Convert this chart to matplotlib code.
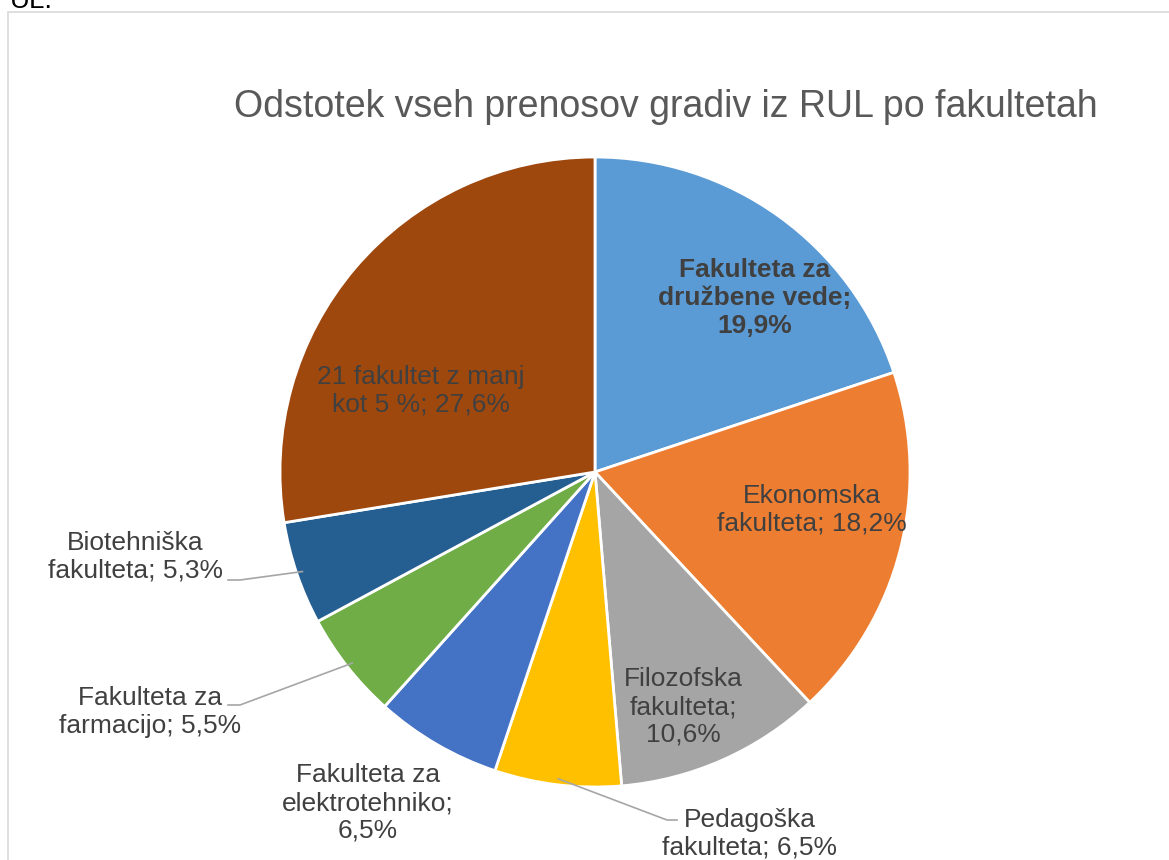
import math
import matplotlib
matplotlib.use('Agg')
from matplotlib import pyplot as plt
from matplotlib.patches import Rectangle

plt.rcParams['font.family'] = ['Liberation Sans', 'DejaVu Sans']

# data
labels = ['Fakulteta za\ndružbene vede;\n19,9%',
          'Ekonomska\nfakulteta; 18,2%',
          'Filozofska\nfakulteta;\n10,6%',
          'Pedagoška\nfakulteta; 6,5%',
          'Fakulteta za\nelektrotehniko;\n6,5%',
          'Fakulteta za\nfarmacijo; 5,5%',
          'Biotehniška\nfakulteta; 5,3%',
          '21 fakultet z manj\nkot 5 %; 27,6%']
shares = [19.9, 18.2, 10.6, 6.5, 6.5, 5.5, 5.3, 27.6]
colors = ['#5B9BD5', '#ED7D31', '#A5A5A5', '#FFC000',
          '#4472C4', '#70AD47', '#255E91', '#9E480E']

W, H = 1169, 860
cx, cy, r = 595, H - 472, 315

# label centres in pixel coords (from top-left) and leader line knees
label_pos = [(755, 298), (812, 510), (683, 707), (750, 834),
             (368, 803), (150, 712), (135, 557), (421, 391)]
leader = [None, None, None, (667, 820), None, (240, 705), (240, 580), None]
leader_end = [None, None, None, 677, None, 228, 228, None]

fig = plt.figure(figsize=(W / 100, H / 100), dpi=100)
ax = fig.add_axes([0, 0, 1, 1])

wedges, _ = ax.pie(shares, colors=colors, startangle=90, counterclock=False,
                   radius=r, center=(cx, cy),
                   wedgeprops=dict(edgecolor='white', linewidth=2))
ax.set_xlim(0, W)
ax.set_ylim(0, H)
ax.set_aspect('equal')
ax.axis('off')

# chart border (cropped at right and bottom)
ax.add_patch(Rectangle((8, -20), W + 20, H - 12 + 20, fill=False,
                       edgecolor='#D9D9D9', linewidth=1.2))

ax.text(10, H - 8, 'UL.', fontsize=20, color='#000000', va='baseline')

ax.text(666, H - 107, 'Odstotek vseh prenosov gradiv iz RUL po fakultetah',
        fontsize=27, color='#595959', ha='center', va='center')

for i, (w, lab) in enumerate(zip(wedges, labels)):
    x, y = label_pos[i]
    ax.text(x, H - y, lab, fontsize=19, color='#404040', ha='center',
            va='center', linespacing=1.2,
            fontweight='bold' if i == 0 else 'normal')
    if leader[i] is not None:
        mid = math.radians((w.theta1 + w.theta2) / 2)
        sx = cx + (r - 6) * math.cos(mid)
        sy = cy + (r - 6) * math.sin(mid)
        lx, ly = leader[i]
        ax.plot([sx, lx, leader_end[i]], [sy, H - ly, H - ly],
                color='#A6A6A6', linewidth=1.2)

fig.savefig('out.png', dpi=100)
